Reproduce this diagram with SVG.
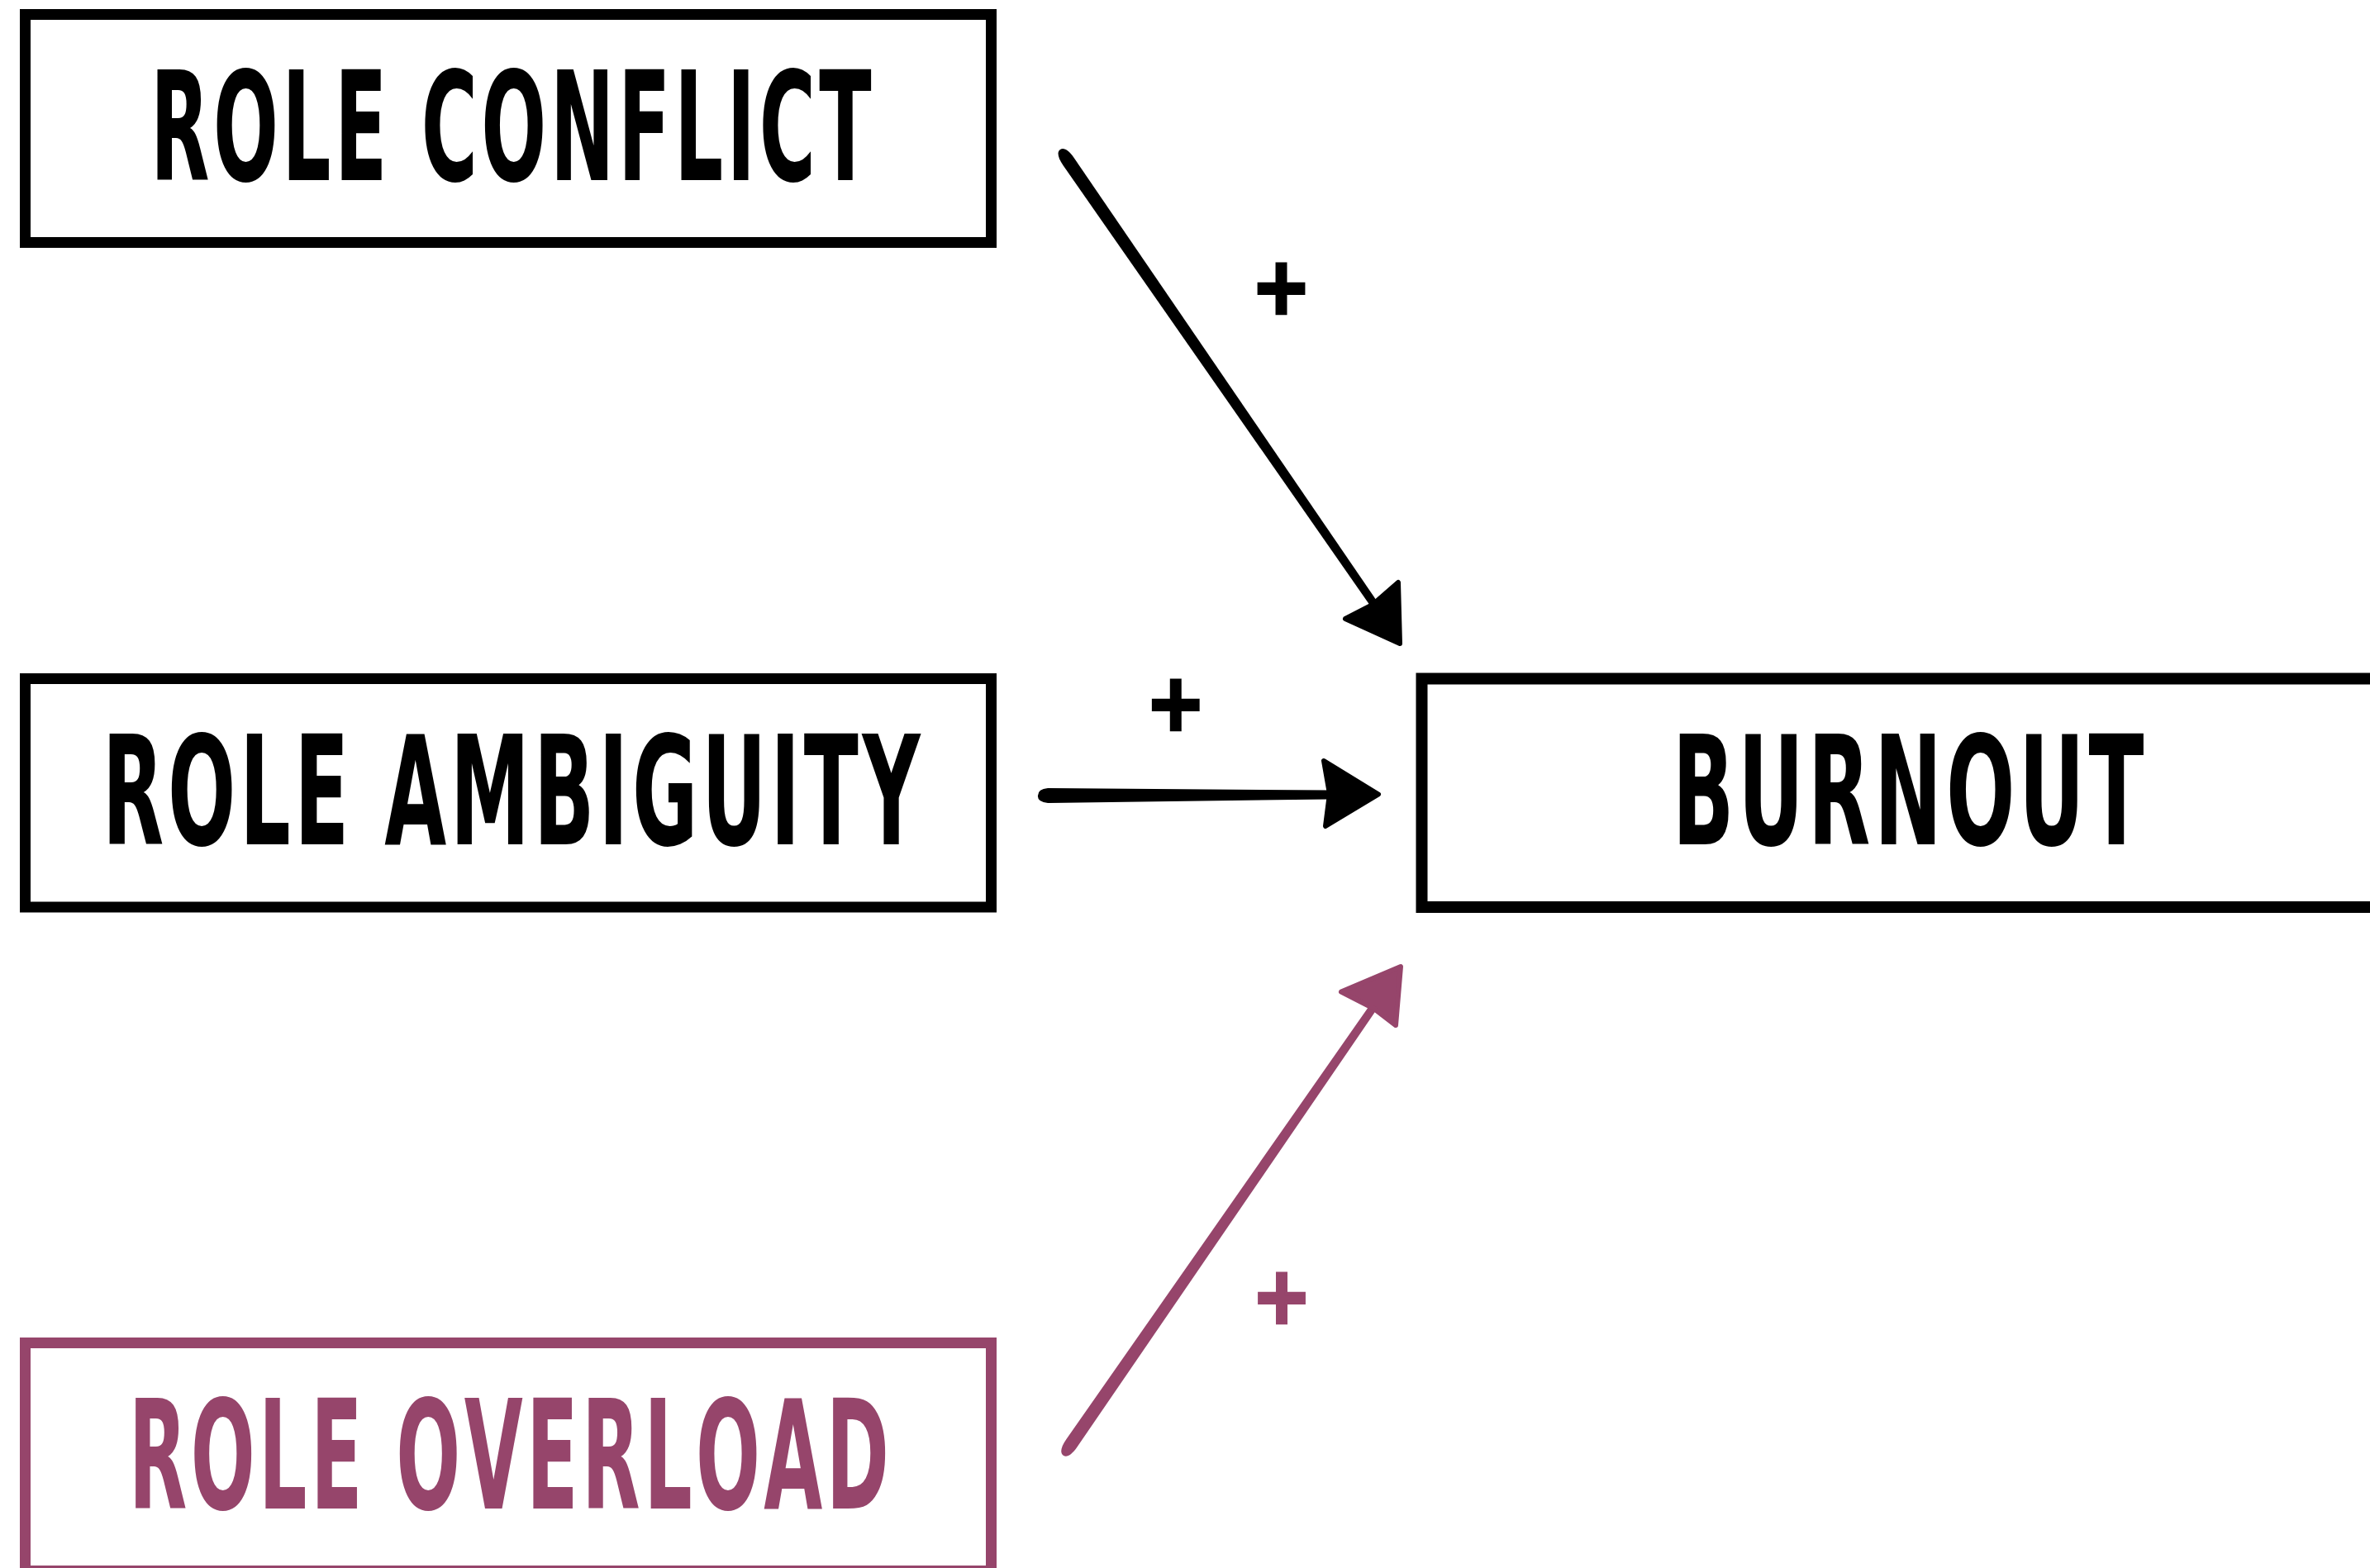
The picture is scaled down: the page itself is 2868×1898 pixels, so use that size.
<svg xmlns="http://www.w3.org/2000/svg" width="2868" height="1898" viewBox="0 0 2868 1898">
<style>
.box{fill:#ffffff;stroke-width:13}
.blk{stroke:#000000}
.pur{stroke:#96456B}
.lbl{font-family:"DejaVu Sans Condensed","DejaVu Sans",sans-serif;font-weight:bold;font-size:184px;text-anchor:middle;font-kerning:none;letter-spacing:8px}
.plus{font-family:"DejaVu Sans","Liberation Sans",sans-serif;font-weight:bold;font-size:86px;text-anchor:middle;stroke-width:4;stroke-linejoin:miter}
.head{stroke-width:6;stroke-linejoin:round}
</style>
<rect width="2868" height="1898" fill="#ffffff"/>
<g id="role-conflict">
<rect class="box blk" x="30.5" y="17.5" width="1169" height="276"/>
<text class="lbl" transform="translate(620.5,218) scale(0.55,1)" x="0" y="0" textLength="1595" lengthAdjust="spacingAndGlyphs" fill="#000000">ROLE CONFLICT</text>
</g>
<g id="role-ambiguity">
<rect class="box blk" x="30.5" y="821.5" width="1169" height="276.5"/>
<text class="lbl" transform="translate(621,1021.7) scale(0.55,1)" x="0" y="0" textLength="1808" lengthAdjust="spacingAndGlyphs" fill="#000000">ROLE AMBIGUITY</text>
</g>
<g id="burnout">
<rect class="box blk" x="1720.5" y="821.5" width="1200" height="276.5" style="stroke-width:14"/>
<text class="lbl" transform="translate(2311.5,1021.7) scale(0.55,1)" x="0" y="0" textLength="1046" lengthAdjust="spacingAndGlyphs" fill="#000000">BURNOUT</text>
</g>
<g id="role-overload">
<rect class="box pur" x="30.5" y="1625.5" width="1169" height="276"/>
<text class="lbl" transform="translate(618,1826) scale(0.55,1)" x="0" y="0" textLength="1681" lengthAdjust="spacingAndGlyphs" fill="#96456B">ROLE OVERLOAD</text>
</g>
<g id="connectors">
<g id="conflict-to-burnout" fill="#000000">
<path d="M1299.8,191.3 L1666,727.2 L1657.8,732.8 L1286.6,200.3 C1279.8,190.4 1278.9,183.8 1283,181 C1287.1,178.2 1293,181.4 1299.8,191.3 Z"/>
<polygon class="head" stroke="#000000" points="1628,749 1661,732 1692,705 1694,779"/>
<text class="plus" transform="translate(1550.5,349.5) scale(1,1.1)" x="0" y="27" fill="#000000" stroke="#000000">+</text>
</g>
<g id="ambiguity-to-burnout" fill="#000000">
<path d="M1268,954 L1608,956.5 L1608,967.5 L1268,972 Q1255,971 1256,963 Q1256,955 1268,954 Z"/>
<polygon class="head" stroke="#000000" points="1602,921 1668,961.5 1604,1000 1609,961"/>
<text class="plus" transform="translate(1422.7,853) scale(1,1.1)" x="0" y="27" fill="#000000" stroke="#000000">+</text>
</g>
<g id="overload-to-burnout" fill="#96456B">
<path d="M1290.3,1742.3 L1658.4,1215.5 L1666.6,1221.1 L1303.5,1751.5 C1296.7,1761.4 1290.8,1764.5 1286.7,1761.7 C1282.6,1758.9 1283.5,1752.2 1290.3,1742.3 Z"/>
<polygon class="head" stroke="#96456B" points="1623,1200.5 1695,1170 1689,1241 1663,1221"/>
<text class="plus" transform="translate(1551,1571) scale(1,1.1)" x="0" y="27" fill="#96456B" stroke="#96456B">+</text>
</g>
</g>
</svg>
